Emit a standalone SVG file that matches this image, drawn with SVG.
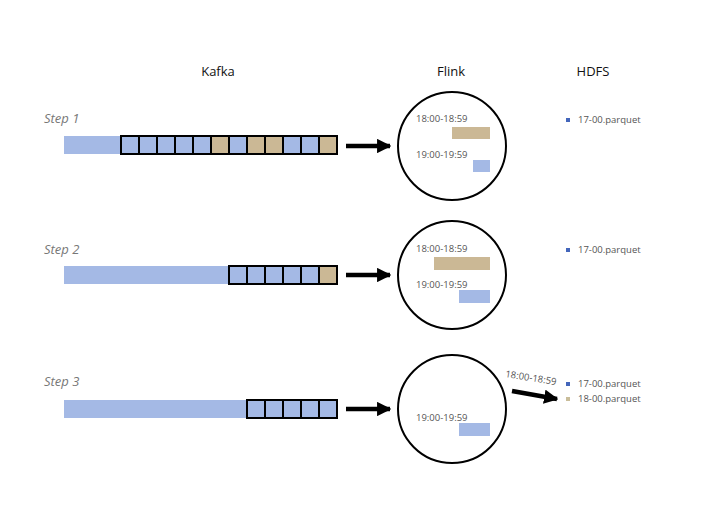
<svg xmlns="http://www.w3.org/2000/svg" width="720" height="524" viewBox="0 0 720 524">
<defs>
<style>
.hdr{font-family:"Open Sans","Liberation Sans",sans-serif;font-size:13px;fill:#111;text-anchor:middle}
.step{font-family:"Open Sans","Liberation Sans",sans-serif;font-size:13px;font-style:italic;fill:#777}
.tm{font-family:"Open Sans","Liberation Sans",sans-serif;font-size:9.5px;fill:#555}
.pq{font-family:"Open Sans","Liberation Sans",sans-serif;font-size:9.5px;fill:#555}
.bar{fill:#a4b9e5}
.b{fill:#a4b9e5;stroke:#000;stroke-width:2}
.t{fill:#cbb895;stroke:#000;stroke-width:2}
.tr{fill:#cbb895}
.circ{fill:none;stroke:#000;stroke-width:2}
.arr{stroke:#000;stroke-width:4.5;fill:none}
</style>
<marker id="ah" viewBox="0 0 10 10" refX="9" refY="5" markerWidth="3.2" markerHeight="3.2" orient="auto" markerUnits="strokeWidth">
<path d="M0,0 L10,5 L0,10 z" fill="#000"/>
</marker>
</defs>
<rect width="720" height="524" fill="#fff"/>

<text class="hdr" x="218" y="76">Kafka</text>
<text class="hdr" x="451" y="76">Flink</text>
<text class="hdr" x="593" y="76">HDFS</text>

<g id="step1">
<text class="step" x="44" y="123">Step 1</text>
<g id="kafka1">
<rect class="bar" x="64" y="136" width="57" height="18"/>
<rect class="b" x="121" y="136" width="18" height="18"/>
<rect class="b" x="139" y="136" width="18" height="18"/>
<rect class="b" x="157" y="136" width="18" height="18"/>
<rect class="b" x="175" y="136" width="18" height="18"/>
<rect class="b" x="193" y="136" width="18" height="18"/>
<rect class="t" x="211" y="136" width="18" height="18"/>
<rect class="b" x="229" y="136" width="18" height="18"/>
<rect class="t" x="247" y="136" width="18" height="18"/>
<rect class="t" x="265" y="136" width="18" height="18"/>
<rect class="b" x="283" y="136" width="18" height="18"/>
<rect class="b" x="301" y="136" width="18" height="18"/>
<rect class="t" x="319" y="136" width="18" height="18"/>
</g>
<g id="flink1">
<circle class="circ" cx="452" cy="146" r="54"/>
<text class="tm" x="416" y="122">18:00-18:59</text>
<rect class="tr" x="452" y="127" width="38" height="12"/>
<text class="tm" x="416" y="158">19:00-19:59</text>
<rect class="bar" x="473" y="160" width="17" height="12"/>
</g>
<g id="hdfs1">
<rect x="566" y="118" width="4" height="4" fill="#4466bb"/>
<text class="pq" x="578" y="123">17-00.parquet</text>
</g>
</g>

<g id="step2">
<text class="step" x="44" y="254">Step 2</text>
<g id="kafka2">
<rect class="bar" x="64" y="266" width="165" height="18"/>
<rect class="b" x="229" y="266" width="18" height="18"/>
<rect class="b" x="247" y="266" width="18" height="18"/>
<rect class="b" x="265" y="266" width="18" height="18"/>
<rect class="b" x="283" y="266" width="18" height="18"/>
<rect class="b" x="301" y="266" width="18" height="18"/>
<rect class="t" x="319" y="266" width="18" height="18"/>
</g>
<g id="flink2">
<circle class="circ" cx="452" cy="275" r="54"/>
<text class="tm" x="416" y="252">18:00-18:59</text>
<rect class="tr" x="434" y="257" width="56" height="13"/>
<text class="tm" x="416" y="288">19:00-19:59</text>
<rect class="bar" x="459" y="290" width="31" height="13"/>
</g>
<g id="hdfs2">
<rect x="566" y="248" width="4" height="4" fill="#4466bb"/>
<text class="pq" x="578" y="253">17-00.parquet</text>
</g>
</g>

<g id="step3">
<text class="step" x="44" y="386">Step 3</text>
<g id="kafka3">
<rect class="bar" x="64" y="400" width="183" height="18"/>
<rect class="b" x="247" y="400" width="18" height="18"/>
<rect class="b" x="265" y="400" width="18" height="18"/>
<rect class="b" x="283" y="400" width="18" height="18"/>
<rect class="b" x="301" y="400" width="18" height="18"/>
<rect class="b" x="319" y="400" width="18" height="18"/>
</g>
<g id="flink3">
<circle class="circ" cx="452" cy="409" r="54"/>
<text class="tm" x="416" y="421">19:00-19:59</text>
<rect class="bar" x="459" y="423" width="31" height="13"/>
</g>
<g id="hdfs3">
<rect x="566" y="382" width="4" height="4" fill="#4466bb"/>
<text class="pq" x="578" y="387">17-00.parquet</text>
<rect x="566" y="397" width="4" height="4" fill="#c9bd9a"/>
<text class="pq" x="578" y="402">18-00.parquet</text>
</g>
</g>

<g id="connectors">
<line class="arr" x1="346" y1="146" x2="390" y2="146" marker-end="url(#ah)"/>
<line class="arr" x1="346" y1="275" x2="390" y2="275" marker-end="url(#ah)"/>
<line class="arr" x1="346" y1="409" x2="390" y2="409" marker-end="url(#ah)"/>
<line class="arr" x1="512" y1="391" x2="557" y2="399" marker-end="url(#ah)"/>
<text class="tm" x="505" y="377" transform="rotate(9 505 377)">18:00-18:59</text>
</g>
</svg>
